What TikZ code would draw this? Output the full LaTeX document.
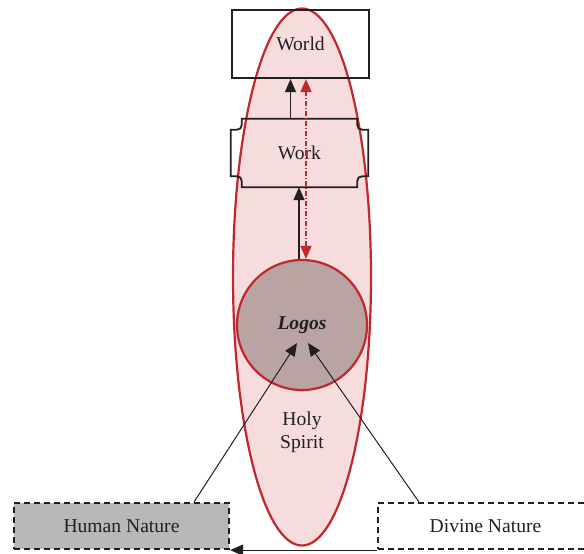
\documentclass[tikz,border=0pt]{standalone}
\usepackage{fontspec}
\setmainfont{Liberation Serif}
\usetikzlibrary{shapes.geometric,arrows.meta}
\definecolor{spiritred}{HTML}{C0282D}
\definecolor{spiritpink}{HTML}{F6DCDC}
\definecolor{logosgrey}{HTML}{B9A3A3}
\definecolor{humangrey}{HTML}{B8B8B8}
\definecolor{ink}{HTML}{231F20}

\begin{document}
\begin{tikzpicture}[x=1pt, y=-1pt, font=\fontsize{19.6}{23}\selectfont, text=ink,
  box/.style = {draw=ink, line width=2.2pt, minimum width=137pt, minimum height=68pt},
  nature/.style = {draw=ink, line width=2.2pt, dash pattern=on 6pt off 4pt, minimum width=215pt, minimum height=46pt},
  tip/.style = {-{Triangle[length=13pt,width=11pt]}},
  tips/.style = {{Triangle[length=13pt,width=11pt]}-{Triangle[length=13pt,width=11pt]}}]
\useasboundingbox (0,0) rectangle (584,554);
\node[ellipse, draw=spiritred, fill=spiritpink, line width=2.2pt, minimum width=138pt, minimum height=537pt] (spirit) at (302,277) {};
\node[box] (world) at (300.5,44) {World};
\node[minimum width=137pt, minimum height=68pt] (work) at (299.5,153) {Work};
\draw[ink, line width=1.8pt] ([xshift=11pt]work.north west) -- ([xshift=-11pt]work.north east)
  .. controls ([xshift=-11pt,yshift=-11pt]work.north east) .. ([yshift=-11pt]work.north east)
  -- ([yshift=11pt]work.south east)
  .. controls ([xshift=-11pt,yshift=11pt]work.south east) .. ([xshift=-11pt]work.south east)
  -- ([xshift=11pt]work.south west)
  .. controls ([xshift=11pt,yshift=11pt]work.south west) .. ([yshift=11pt]work.south west)
  -- ([yshift=-11pt]work.north west)
  .. controls ([xshift=11pt,yshift=-11pt]work.north west) .. cycle;
\node[circle, draw=spiritred, fill=logosgrey, line width=2.2pt, minimum size=130pt, font=\fontsize{19.6}{23}\selectfont\bfseries\itshape] (logos) at (302,325) {Logos};
\node[align=center] (holy) at (302,432) {Holy\\Spirit};
\node[nature, fill=humangrey] (human) at (121.5,526) {Human Nature};
\node[nature, fill=white] (divine) at (485.5,526) {Divine Nature};
\draw[ink, tip, line width=1.4pt] ([xshift=-9pt]work.north) -- ([xshift=-9pt]work.north |- world.south);
\draw[ink, tip, line width=1.4pt] ([xshift=-3pt]logos.north) -- ([xshift=-3pt]logos.north |- work.south);
\draw[spiritred, tips, line width=1.4pt, dash pattern=on 5pt off 2pt on 1pt off 2pt] ([xshift=4pt]logos.north) -- ([xshift=4pt]logos.north |- world.south);
\draw[ink, tip, line width=1pt] ([xshift=-36pt]human.north east) -- ([shift={(-5pt,-18pt)}]logos.center);
\draw[ink, tip, line width=1pt] ([xshift=42pt]divine.north west) -- ([shift={(6pt,-18pt)}]logos.center);
\draw[ink, tip, line width=1.2pt] (divine.south west) -- (human.south east);
\end{tikzpicture}
\end{document}
